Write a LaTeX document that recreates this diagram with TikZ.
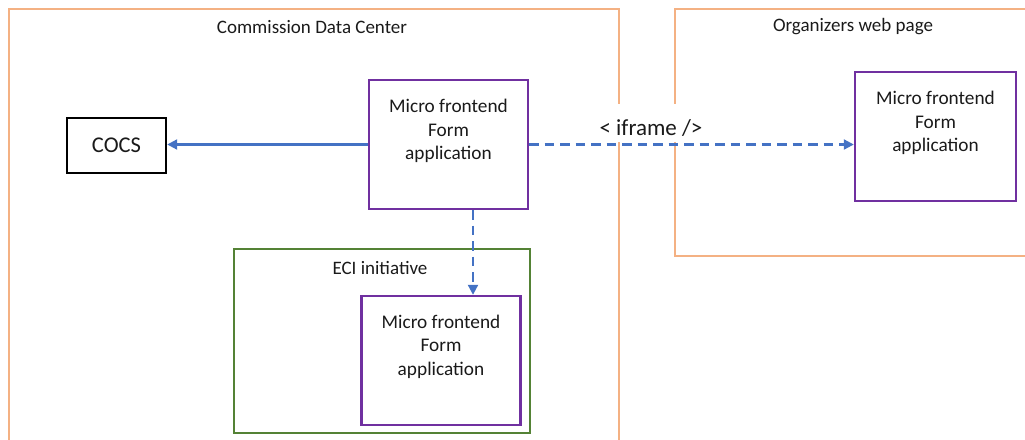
\documentclass[tikz,border=0pt]{standalone}
\usepackage{fontspec}
\setmainfont{Carlito}
\usetikzlibrary{arrows.meta,calc}
\definecolor{orng}{HTML}{F4B183}
\definecolor{purp}{HTML}{7030A0}
\definecolor{grn}{HTML}{548235}
\definecolor{blu}{HTML}{4472C4}
\definecolor{txt}{HTML}{1A1A1A}
\tikzset{
  container/.style={draw=orng, line width=2pt, inner sep=0pt, anchor=north west},
  ecibox/.style={draw=grn, line width=2pt, inner sep=0pt, anchor=north west},
  mfbox/.style={draw=purp, line width=2.4pt, minimum width=159pt, minimum height=129pt, inner sep=0pt},
  mftext/.style={align=center, font=\fontsize{19.3}{23.5}\selectfont, text=txt, inner sep=0pt},
  title/.style={font=\fontsize{19}{23}\selectfont, text=txt, inner sep=0pt},
  link/.style={draw=blu, line width=2.1pt, -{Triangle[length=10pt,width=10pt]}},
  dlink/.style={link, dash pattern=on 9.5pt off 6pt}
}
\begin{document}
\begin{tikzpicture}[x=1pt,y=-1pt]
\useasboundingbox (0,0) rectangle (1025,439);
% containers
\node[container, minimum width=610pt, minimum height=460pt] (cdc) at (8,8) {};
\node[container, minimum width=370pt, minimum height=247pt] (org) at (674,8) {};
\node[ecibox, minimum width=296pt, minimum height=184pt] (eci) at (233,248) {};
% titles
\node[title] (cdct) at (312,27) {Commission Data Center};
\node[title] (orgt) at (853,27) {Organizers web page};
\node[title] (ecit) at (380,268) {ECI initiative};
% gap behind iframe label
\node[fill=white, minimum width=112pt, minimum height=38pt, inner sep=0pt] (gap) at (646,123) {};
% boxes
\node[draw=black, line width=2.4pt, minimum width=99pt, minimum height=55pt, inner sep=0pt,
      font=\fontsize{22.5}{27}\selectfont, text=txt] (cocs) at (116.5,145.5) {COCS};
\node[mfbox] (mf1) at (448.5,144.5) {};
\node[mfbox, minimum width=161pt] (mf2) at (935.5,136.5) {};
\node[mfbox] (mf3) at (441,360.5) {};
\node[mftext] (mf1t) at (448.5,131) {Micro frontend\\Form\\application};
\node[mftext] (mf2t) at (935.5,123) {Micro frontend\\Form\\application};
\node[mftext] (mf3t) at (441,346.5) {Micro frontend\\Form\\application};
% connectors
\draw[link] (mf1.west) -- (mf1.west -| cocs.east);
\draw[dlink] (mf1.east) -- (mf1.east -| mf2.west);
\draw[dlink] ([xshift=24.5pt]mf1.south) -- ([xshift=32pt]mf3.north);
\node[font=\fontsize{23}{27}\selectfont, text=txt, inner sep=0pt] (iframe) at (651,128) {< iframe />};
\end{tikzpicture}
\end{document}
